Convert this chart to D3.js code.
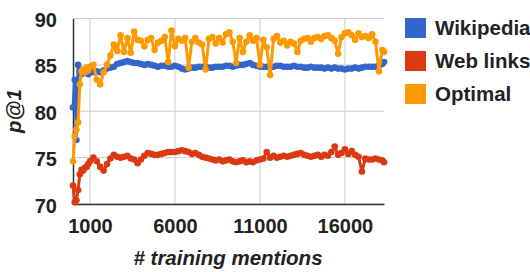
<!DOCTYPE html>
<html><head><meta charset="utf-8">
<script src="https://cdn.jsdelivr.net/npm/d3@7"></script>
<style>
html,body{margin:0;padding:0;background:#fff;}
svg text{font-family:"Liberation Sans",Arial,sans-serif;font-weight:bold;fill:#222;}
</style></head>
<body><svg id="c" width="530" height="272"></svg>
<script>
const mentions = [0,100,200,300,400,500,600,700,800,900,1000,
1200,1400,1600,1800,2000,2200,2400,2600,2800,3000,3200,3400,3600,3800,4000,
4200,4400,4600,4800,5000,5200,5400,5600,5800,6000,6200,6400,6600,6800,7000,
7200,7400,7600,7800,8000,8200,8400,8600,8800,9000,9200,9400,9600,9800,10000,
10200,10400,10600,10800,11000,11200,11400,11600,11800,12000,12200,12400,12600,12800,13000,
13200,13400,13600,13800,14000,14200,14400,14600,14800,15000,15200,15400,15600,15800,16000,
16200,16400,16600,16800,17000,17200,17400,17600,17800,18000,18200,18300];

const wikipedia = [80.4,83.4,76.9,85.0,84.3,84.0,84.4,84.2,84.5,84.0,84.3,
84.2,84.3,84.2,84.4,84.6, 84.7,84.8,85.1,85.2,85.3, 85.4,85.3,85.2,85.2,85.1,
85.0,85.1,85.0,84.9,84.8, 84.9,84.9,84.8,84.8,84.9, 84.8,84.6,84.5,84.6,84.7,
84.7,84.8,84.8,84.8,84.7, 84.7,84.8,84.8,84.8,84.9, 84.9,84.8,84.9,85.0,85.0,
85.1,85.2,85.0,84.9,84.8, 84.8,84.8,84.7,84.8,84.9, 84.9,84.8,84.8,84.8,84.9,
84.8,84.8,84.7,84.7,84.8, 84.7,84.7,84.7,84.6,84.7, 84.6,84.7,84.6,84.6,84.5,
84.6,84.6,84.7,84.6,84.7, 84.8,84.8,84.8,84.8,84.9, 85.1,85.3];

const webLinks = [72.0,70.2,70.4,71.5,73.2,73.7,73.6,73.9,74.0,74.3,74.6,
75.0,74.6,74.0,73.6,74.3, 74.9,75.3,75.1,75.0,75.1, 75.2,74.9,74.8,74.4,74.8,
75.2,75.5,75.4,75.3,75.3, 75.4,75.5,75.6,75.6,75.6, 75.7,75.8,75.7,75.6,75.4,
75.5,75.3,75.1,75.0,74.9, 74.8,74.7,74.8,74.6,74.7, 74.8,74.6,74.5,74.6,74.7,
74.5,74.6,74.5,74.7,74.8, 74.9,75.6,75.0,75.2,75.0, 75.1,75.2,75.1,75.2,75.3,
75.4,75.5,75.3,75.2,75.1, 75.2,75.3,75.1,75.3,75.2, 75.6,76.2,75.3,75.5,75.9,
75.4,75.7,75.3,75.1,73.5, 74.9,74.8,74.8,74.9,74.8, 74.7,74.5];

const optimal = [74.6,77.3,78.0,78.8,82.9,84.3,84.5,84.2,84.7,84.4,84.8,
85.0,83.4,82.9,84.2,85.0, 86.0,87.2,86.5,88.2,86.4, 87.9,86.3,88.6,87.7,87.6,
87.0,87.7,87.9,86.6,87.4, 87.6,88.0,85.3,88.7,87.0, 87.8,87.6,87.9,84.7,87.5,
87.9,87.4,87.2,84.5,87.8, 88.0,87.3,87.9,87.4,88.3, 88.5,87.5,85.2,87.9,86.4,
87.5,88.2,87.6,87.9,85.0, 87.7,86.9,83.9,87.8,88.1, 87.4,87.6,87.1,87.5,87.3,
86.4,87.6,87.8,87.9,87.5, 87.9,88.0,87.8,88.1,88.2, 87.9,87.6,86.2,88.0,88.4,
88.5,88.2,87.7,88.4,88.0, 88.1,87.9,88.3,87.5,84.3, 86.6,86.4];

const seriesNames = ["Wikipedia","Web links","Optimal"];
const seriesColors = ["#3366cc","#dc3912","#ff9900"];
const xTicks = [1000,6000,11000,16000];
const yTicks = [70,75,80,85,90];

const svg = d3.select("#c");
const x = d3.scaleLinear().domain([0,18300]).range([73,384]);
const y = d3.scaleLinear().domain([70,90]).range([204,18.5]);

// gridlines
svg.append("g").selectAll("line").data(yTicks).join("line")
  .attr("x1",x(0)).attr("x2",x(18300)).attr("y1",d=>y(d)).attr("y2",d=>y(d))
  .attr("stroke","#cccccc").attr("stroke-width",1);
svg.append("g").selectAll("line").data(xTicks).join("line")
  .attr("x1",d=>x(d)).attr("x2",d=>x(d)).attr("y1",y(70)).attr("y2",y(90))
  .attr("stroke","#cccccc").attr("stroke-width",1);

// axes
const xAxis = svg.append("g").attr("transform",`translate(0,${y(70)})`)
  .call(d3.axisBottom(x).tickValues(xTicks).tickFormat(d3.format("d")).tickSize(0).tickPadding(15));
xAxis.select(".domain").attr("stroke","#333").attr("stroke-width",1.5);
xAxis.selectAll("text").style("font-size","20px").attr("fill","#222");
const yAxis = svg.append("g").attr("transform",`translate(${x(0)},0)`)
  .call(d3.axisLeft(y).tickValues(yTicks).tickFormat(d3.format("d")).tickSize(0).tickPadding(16));
yAxis.select(".domain").attr("stroke","#333").attr("stroke-width",1.5);
yAxis.selectAll("text").style("font-size","20px").attr("fill","#222").attr("dy","0.4em");

// data
const all = [wikipedia, webLinks, optimal];
const line = d3.line().x((d,i)=>x(mentions[i])).y(d=>y(d));
all.forEach((vals,k)=>{
  const g = svg.append("g");
  g.append("path").datum(vals).attr("d",line).attr("fill","none")
    .attr("stroke",seriesColors[k]).attr("stroke-width",3).attr("stroke-linejoin","round");
  g.selectAll("circle").data(vals).join("circle")
    .attr("cx",(d,i)=>x(mentions[i])).attr("cy",d=>y(d)).attr("r",3.3)
    .attr("fill",seriesColors[k]);
});

// axis titles
svg.append("text").attr("x",228).attr("y",265).attr("text-anchor","middle")
  .style("font-size","20.5px").style("font-style","italic").text("# training mentions");
svg.append("text").attr("transform","translate(21,111) rotate(-90)").attr("text-anchor","middle")
  .style("font-size","20.5px").style("font-style","italic").text("p@1");

// legend
const leg = svg.append("g").selectAll("g").data(seriesNames).join("g")
  .attr("transform",(d,i)=>`translate(405,${18+i*33})`);
leg.append("rect").attr("width",21).attr("height",20).attr("fill",(d,i)=>seriesColors[i]);
leg.append("text").attr("x",30).attr("y",16.5).style("font-size","20.5px").text(d=>d);
</script></body></html>
